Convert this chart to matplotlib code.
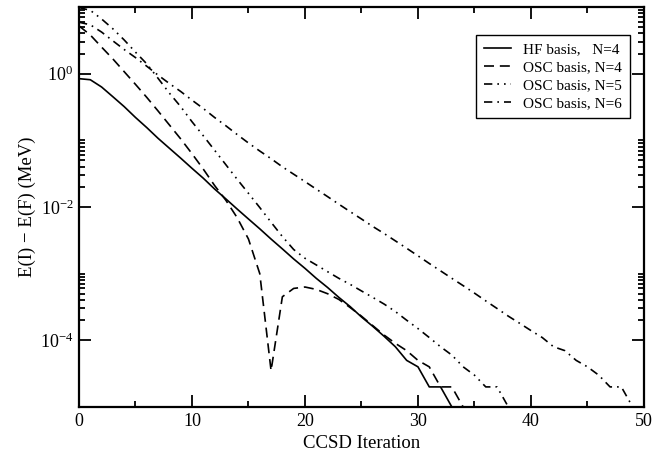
import matplotlib
matplotlib.use("Agg")
import matplotlib.pyplot as plt
from matplotlib.ticker import FixedLocator, NullFormatter, FixedFormatter

plt.rcParams['font.family'] = ['Liberation Serif', 'DejaVu Serif']
plt.rcParams['mathtext.fontset'] = 'custom'
plt.rcParams['mathtext.rm'] = 'Liberation Serif'
plt.rcParams['mathtext.it'] = 'Liberation Serif:italic'

# ---- data ----
iter_hf4 = list(range(0, 34))
hf_n4 = [0.84, 0.81, 0.63, 0.45, 0.32, 0.22, 0.155, 0.107, 0.076, 0.054,
         0.038, 0.027, 0.0186, 0.0132, 9.3e-3, 6.6e-3, 4.7e-3, 3.3e-3, 2.35e-3, 1.66e-3,
         1.2e-3, 8.5e-4, 6.2e-4, 4.4e-4, 3.2e-4, 2.24e-4, 1.62e-4, 1.15e-4, 8e-5, 5e-5,
         4e-5, 2e-5, 2e-5, 1e-5]

iter_osc4 = list(range(0, 35))
osc_n4 = [5.2, 3.8, 2.5, 1.66, 1.07, 0.69, 0.44, 0.275, 0.17, 0.105,
          0.063, 0.037, 0.021, 0.0126, 6.9e-3, 3.3e-3, 1.0e-3, 3.5e-5, 4.5e-4, 6.0e-4,
          6.3e-4, 5.8e-4, 5.0e-4, 4.1e-4, 3.1e-4, 2.3e-4, 1.66e-4, 1.2e-4, 9e-5, 7e-5,
          5e-5, 4e-5, 2e-5, 2e-5, 1e-5]

iter_osc5 = list(range(0, 39))
osc_n5 = [9.8, 8.9, 6.6, 4.7, 3.2, 2.1, 1.4, 0.85, 0.51, 0.32,
          0.19, 0.117, 0.071, 0.043, 0.026, 0.016, 9.8e-3, 5.9e-3, 3.6e-3, 2.3e-3,
          1.7e-3, 1.35e-3, 1.07e-3, 8.5e-4, 6.9e-4, 5.5e-4, 4.4e-4, 3.5e-4, 2.7e-4, 2.0e-4,
          1.5e-4, 1.1e-4, 8e-5, 6e-5, 4e-5, 3e-5, 2e-5, 2e-5, 1e-5]

iter_osc6 = list(range(0, 50))
osc_n6 = [5.9, 5.4, 4.2, 3.1, 2.3, 1.74, 1.29, 0.95, 0.71, 0.54,
          0.40, 0.30, 0.22, 0.165, 0.122, 0.091, 0.069, 0.053, 0.040, 0.031,
          0.0240, 0.0185, 0.0143, 0.0110, 8.5e-3, 6.6e-3, 5.1e-3, 4.0e-3, 3.1e-3, 2.4e-3,
          1.85e-3, 1.42e-3, 1.1e-3, 8.5e-4, 6.6e-4, 5.1e-4, 3.9e-4, 3.0e-4, 2.3e-4, 1.8e-4,
          1.4e-4, 1.1e-4, 8e-5, 7e-5, 5e-5, 4e-5, 3e-5, 2e-5, 2e-5, 1e-5]

labels = ["HF basis,   N=4", "OSC basis, N=4", "OSC basis, N=5", "OSC basis, N=6"]
xticks = [0, 10, 20, 30, 40, 50]
yticks = [1e-4, 1e-2, 1e0]
ytick_labels = [r"$10^{-4}$", r"$10^{-2}$", r"$10^{0}$"]

# ---- figure ----
fig = plt.figure(figsize=(6.71, 4.63), dpi=100)
ax = fig.add_axes([0.1177, 0.121, 0.842, 0.864])

lw = 1.2
ax.plot(iter_hf4, hf_n4, color='black', lw=lw, ls='-', label=labels[0])
ax.plot(iter_osc4, osc_n4, color='black', lw=lw, ls=(0, (6, 3.5)), label=labels[1])
ax.plot(iter_osc5, osc_n5, color='black', lw=lw, ls=(0, (5, 3, 1, 3, 1, 3)), label=labels[2])
ax.plot(iter_osc6, osc_n6, color='black', lw=lw, ls=(0, (5, 3, 1, 3)), label=labels[3])

ax.set_yscale('log')
ax.set_xlim(0, 50)
ax.set_ylim(1e-5, 1e1)

ax.xaxis.set_major_locator(FixedLocator(xticks))
ax.xaxis.set_minor_locator(FixedLocator([5, 15, 25, 35, 45]))
ax.yaxis.set_major_locator(FixedLocator(yticks))
ax.yaxis.set_major_formatter(FixedFormatter(ytick_labels))
minor_y = [k * 10.0 ** e for e in (-4, -2, 0) for k in range(2, 11)]
ax.yaxis.set_minor_locator(FixedLocator(minor_y))
ax.yaxis.set_minor_formatter(NullFormatter())

ax.tick_params(which='both', direction='in', top=True, right=True, width=1.3)
ax.tick_params(which='major', length=8.5, labelsize=13, pad=4)
ax.tick_params(which='minor', length=4.5)
ax.tick_params(axis='x', which='major', pad=4)

for s in ax.spines.values():
    s.set_linewidth(1.6)

ax.set_xlabel("CCSD Iteration", fontsize=13.5, labelpad=4)
ax.set_ylabel("E(I) \u2212 E(F) (MeV)", fontsize=13.5, labelpad=3)

leg = ax.legend(loc='upper right', bbox_to_anchor=(0.975, 0.93), fontsize=11,
                frameon=True, fancybox=False, edgecolor='black', framealpha=1,
                handlelength=1.8, handletextpad=0.8, labelspacing=0.28,
                borderpad=0.5, borderaxespad=0)
leg.get_frame().set_linewidth(1.0)

fig.savefig("out.png", dpi=100)
